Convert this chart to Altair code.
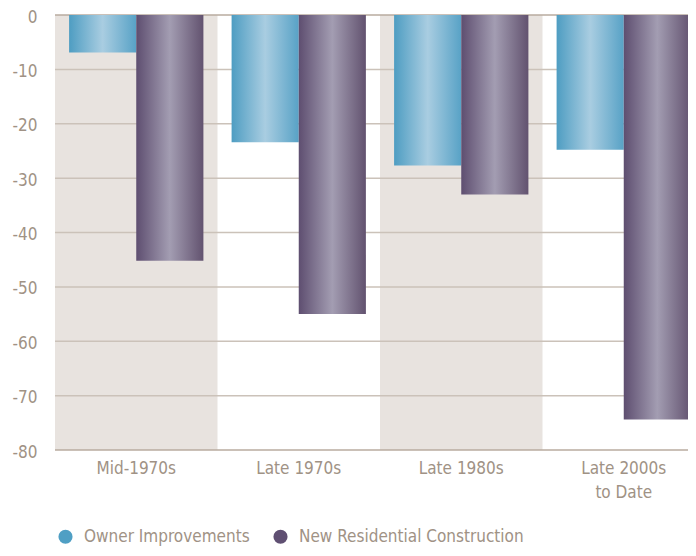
import altair as alt
import pandas as pd

categories = ["Mid-1970s", "Late 1970s", "Late 1980s", "Late 2000s to Date"]
series = ["Owner Improvements", "New Residential Construction"]
owner_improvements = [-6.9, -23.4, -27.7, -24.8]
new_residential = [-45.2, -55.0, -33.0, -74.4]
shaded_categories = ["Mid-1970s", "Late 1980s"]
y_ticks = [0, -10, -20, -30, -40, -50, -60, -70, -80]

TEXT = "#a09285"
FONT = "Liberation Sans Narrow, DejaVu Sans Condensed, sans-serif"

df = pd.DataFrame({
    "category": categories * 2,
    "series": [series[0]] * 4 + [series[1]] * 4,
    "value": owner_improvements + new_residential,
})
bg = pd.DataFrame({"category": shaded_categories, "top": [0] * 2, "bottom": [-80] * 2})
grid = pd.DataFrame({"v": y_ticks, "strong": [v in (0, -80) for v in y_ticks]})

# the category bands run past the right edge of the visible area, as in the original
xscale = alt.Scale(domain=categories, paddingInner=0, paddingOuter=0, range=[0, 650])
yscale = alt.Scale(domain=[-80, 0], nice=False, zero=False)
xoff = alt.XOffset("series:N", scale=alt.Scale(domain=series, paddingInner=0, paddingOuter=0.21))

x_axis = alt.Axis(
    title=None, ticks=False, domain=False, grid=False, labelAngle=0, labelPadding=10,
    labelFontSize=17, labelFont=FONT, labelColor=TEXT, labelLineHeight=24,
    labelExpr="datum.value == 'Late 2000s to Date' ? ['Late 2000s', 'to Date'] : datum.label",
)
y_axis = alt.Axis(
    title=None, ticks=False, domain=False, grid=False, values=y_ticks,
    labelPadding=18, labelFontSize=17, labelFont=FONT, labelColor=TEXT,
    labelOffset=2, labelExpr="toString(datum.value)",
)

X = alt.X("category:N", scale=xscale, axis=x_axis)

background = alt.Chart(bg).mark_rect(color="#e8e3df").encode(
    x=X,
    y=alt.Y("top:Q", scale=yscale, axis=y_axis),
    y2="bottom:Q",
)

gridlines = alt.Chart(grid).mark_rule(strokeWidth=1.5).encode(
    y=alt.Y("v:Q", scale=yscale, axis=y_axis),
    color=alt.Color("strong:N", scale=alt.Scale(domain=[False, True], range=["#cbc2b9", "#b8ab9f"]), legend=None),
)


def grad(edge1, center, edge2):
    return alt.Gradient(
        gradient="linear",
        stops=[
            alt.GradientStop(color=edge1, offset=0),
            alt.GradientStop(color=center, offset=0.5),
            alt.GradientStop(color=edge2, offset=1),
        ],
        x1=0, x2=1, y1=0, y2=0,
    )


def bars(name, gradient):
    return alt.Chart(df).transform_filter(alt.datum.series == name).mark_bar(
        color=gradient
    ).encode(
        x=X,
        xOffset=xoff,
        y=alt.Y("value:Q", scale=yscale, axis=y_axis),
        y2=alt.datum(0),
    )


owner_bars = bars(series[0], grad("#4e9dc2", "#a9cde1", "#58a2c6"))
new_bars = bars(series[1], grad("#5e4e70", "#a39db2", "#62526f"))

legend_pts = alt.Chart(df).mark_point(filled=True, opacity=0, shape="circle").encode(
    x=X,
    xOffset=xoff,
    y=alt.Y("value:Q", scale=yscale, axis=y_axis),
    color=alt.Color(
        "series:N",
        scale=alt.Scale(domain=series, range=["#4f9fc4", "#5f4f72"]),
        legend=alt.Legend(
            title=None, orient="none", legendX=2, legendY=513, direction="horizontal",
            symbolType="circle", symbolSize=200, symbolOpacity=1, symbolStrokeWidth=0,
            labelFontSize=17, labelFont=FONT, labelColor=TEXT, labelOffset=10,
            columnPadding=22, labelLimit=400,
        ),
    ),
)

chart = alt.layer(background, gridlines, owner_bars, new_bars, legend_pts).resolve_scale(
    color="independent"
).properties(
    width=633, height=435,
    autosize=alt.AutoSizeParams(type="none"),
    padding={"left": 47, "top": 7, "right": 0, "bottom": 98},
).configure_view(stroke=None)

chart.save("out.html", embed_options={"renderer": "svg", "actions": False})
